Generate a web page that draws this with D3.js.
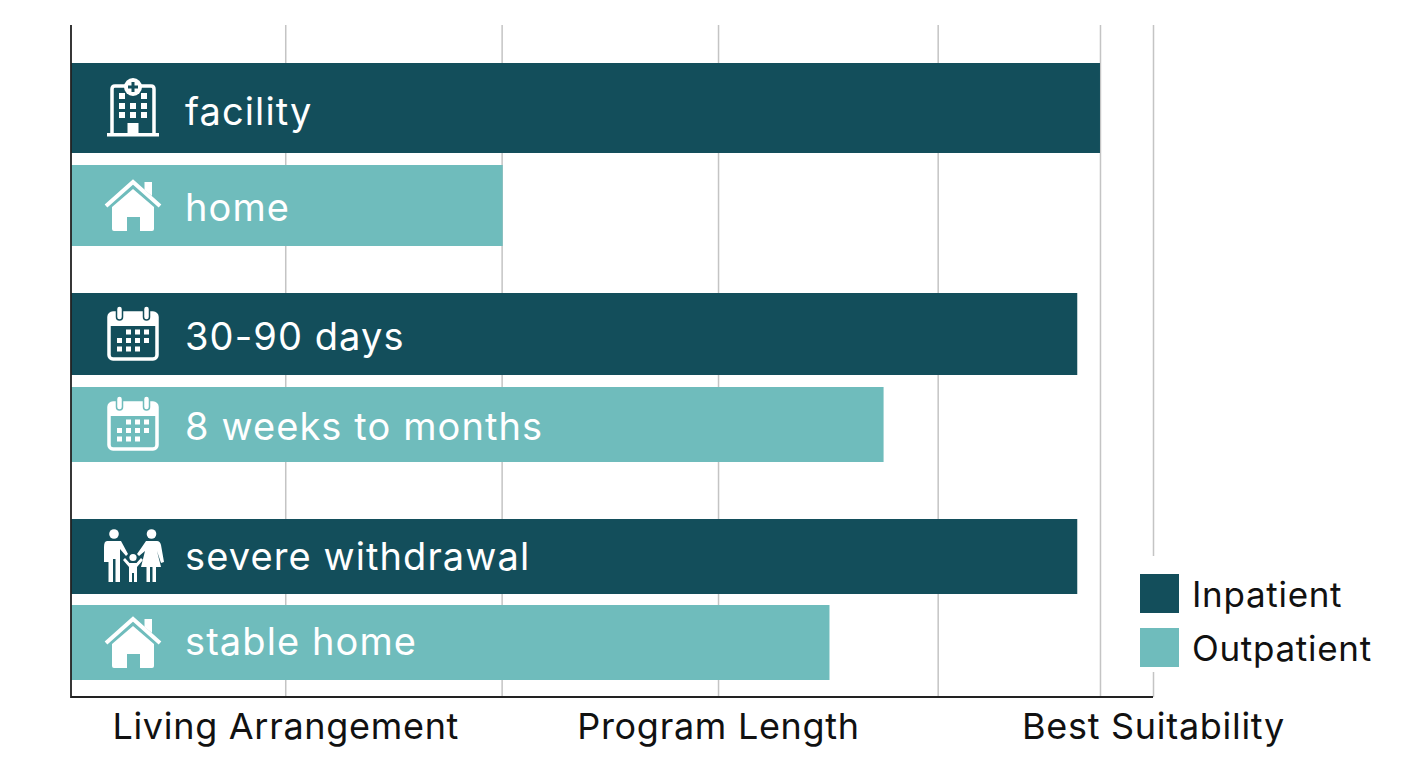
<!DOCTYPE html>
<html>
<head>
<meta charset="utf-8">
<script src="https://cdn.jsdelivr.net/npm/d3@7"></script>
<style>
body { margin: 0; background: #fff; }
text { font-family: Inter, "Open Sans", sans-serif; }
.bar-label { fill: #fff; font-size: 38px; letter-spacing: 1.1px; }
.axis-label, .legend-label { fill: #111; letter-spacing: 0.7px; }
.legend-label { font-size: 35px; }
</style>
</head>
<body>
<svg id="chart" width="1408" height="768"></svg>
<script>
// data
var rows = ["facility", "home", "30-90 days", "8 weeks to months", "severe withdrawal", "stable home"];
var groups = ["Inpatient", "Outpatient", "Inpatient", "Outpatient", "Inpatient", "Outpatient"];
var values = [95.1, 39.9, 93, 75.1, 93, 70.1];
var icons = ["hospital", "home", "calendar", "calendar", "family", "home"];
var gridTicks = [19.8, 39.8, 59.8, 80.1, 95.1, 100];
var labelTicks = [19.8, 59.8, 100];
var tickNames = ["Living Arrangement", "Program Length", "Best Suitability"];
var legendNames = ["Inpatient", "Outpatient"];

// layout
var plotLeft = 71, plotRight = 1153, plotTop = 25, plotBottom = 697;
var rowTops = [63, 165, 293, 387, 519, 605];
var rowHeights = [90, 81, 82, 75, 75, 75];
var baselines = [125, 221, 350, 440, 570, 655];
var iconCenters = [107, 206, 335, 425, 556, 643];

var svg = d3.select("#chart");
var x = d3.scaleLinear().domain([0, 100]).range([plotLeft, plotRight]);
var yTop = d3.scaleOrdinal().domain(rows).range(rowTops);
var yHeight = d3.scaleOrdinal().domain(rows).range(rowHeights);
var yBase = d3.scaleOrdinal().domain(rows).range(baselines);
var yIcon = d3.scaleOrdinal().domain(rows).range(iconCenters);
var color = d3.scaleOrdinal().domain(legendNames).range(["#134e5b", "#6fbcbc"]);

// gridlines
var grid = svg.append("g")
    .attr("transform", "translate(0," + plotBottom + ")")
    .call(d3.axisBottom(x).tickValues(gridTicks).tickSize(plotTop - plotBottom).tickFormat(""));
grid.select(".domain").remove();
grid.selectAll("line").attr("stroke", "#c4c4c4").attr("stroke-width", 1.5);

// bars
var table = rows.map(function(r, i){
    return {row: r, group: groups[i], value: values[i], icon: icons[i]};
});
svg.selectAll("rect.bar")
    .data(table).enter().append("rect")
    .attr("class", "bar")
    .attr("x", x(0))
    .attr("y", function(d){ return yTop(d.row) })
    .attr("width", function(d){ return x(d.value) - x(0) })
    .attr("height", function(d){ return yHeight(d.row) })
    .attr("fill", function(d){ return color(d.group) });

svg.selectAll("text.bar-label")
    .data(table).enter().append("text")
    .attr("class", "bar-label")
    .attr("x", 185)
    .attr("y", function(d){ return yBase(d.row) })
    .text(function(d){ return d.row });

// icons, drawn around their own center
function drawHospital(g, bg){
    g.append("path").attr("d", "M-21,27V-18Q-21,-21 -18,-21H18Q21,-21 21,-18V27")
        .attr("fill", "none").attr("stroke", "#fff").attr("stroke-width", 3.5);
    g.append("rect").attr("x", -26).attr("y", 26).attr("width", 52).attr("height", 3.5).attr("fill", "#fff");
    g.append("circle").attr("cy", -20).attr("r", 9).attr("fill", "#fff");
    g.append("path").attr("d", "M-5,-20H5M0,-25V-15").attr("stroke", bg).attr("stroke-width", 3);
    var cells = [[-11, -11], [11, -11], [-11, -1], [0, -1], [11, -1], [-11, 8], [0, 8], [11, 8]];
    g.selectAll("rect.win").data(cells).enter().append("rect")
        .attr("class", "win")
        .attr("x", function(d){ return d[0] - 3 })
        .attr("y", function(d){ return d[1] - 3 })
        .attr("width", 6).attr("height", 6).attr("fill", "#fff");
    g.append("rect").attr("x", -5.5).attr("y", 16).attr("width", 11).attr("height", 11).attr("fill", "#fff");
}

function drawHome(g, bg){
    g.append("path").attr("d", "M11.5,-24H19V-10L11.5,-16Z").attr("fill", "#fff");
    g.append("path").attr("d", "M-27,0L0,-24L27,0")
        .attr("fill", "none").attr("stroke", "#fff").attr("stroke-width", 4);
    g.append("path")
        .attr("d", "M0,-17L21,1V23Q21,25 19,25H7V11H-6V25H-19Q-21,25 -21,23V1Z")
        .attr("fill", "#fff");
}

function drawCalendar(g, bg){
    g.append("rect").attr("x", -24).attr("y", -22).attr("width", 48).attr("height", 46).attr("rx", 4)
        .attr("fill", "none").attr("stroke", "#fff").attr("stroke-width", 3.5);
    g.append("path").attr("d", "M-24,-18Q-24,-22 -20,-22H20Q24,-22 24,-18V-9H-24Z").attr("fill", "#fff");
    [-13.5, 13.5].forEach(function(cx){
        g.append("rect").attr("x", cx - 3).attr("y", -29).attr("width", 6).attr("height", 14).attr("rx", 3)
            .attr("fill", "#fff").attr("stroke", bg).attr("stroke-width", 1.5);
    });
    var cells = [[-4.5, -3], [4.5, -3], [13.5, -3], [-13.5, 5.5], [-4.5, 5.5], [4.5, 5.5], [13.5, 5.5],
        [-13.5, 14], [-4.5, 14], [4.5, 14]];
    g.selectAll("rect.dot").data(cells).enter().append("rect")
        .attr("class", "dot")
        .attr("x", function(d){ return d[0] - 2.5 })
        .attr("y", function(d){ return d[1] - 2.5 })
        .attr("width", 5).attr("height", 5).attr("fill", "#fff");
}

function drawFamily(g, bg){
    // father
    g.append("circle").attr("cx", -19).attr("cy", -22).attr("r", 4.8).attr("fill", "#fff");
    g.append("path").attr("d", "M-26,-15H-12L-5,-2L-7,0L-13,-7V26H-17.5V3H-20V26H-24.5V-7V6H-29V-9Q-29,-15 -26,-15Z").attr("fill", "#fff");
    // mother
    g.append("circle").attr("cx", 18.5).attr("cy", -22).attr("r", 4.8).attr("fill", "#fff");
    g.append("path").attr("d", "M13,-15H24Q27,-15 28,-11L31,6L28,7L24,-5L28,11H23V26H19.5V11H17V26H13.5V11H8L12,-5L6,0L4,-2Q9,-9 13,-15Z").attr("fill", "#fff");
    // child
    g.append("circle").attr("cy", 1.5).attr("r", 3.6).attr("fill", "#fff");
    g.append("path").attr("d", "M-3.5,7H3.5L8,2L10,4L4,11V26H1V17H-1V26H-4V11L-10,4L-8,2Z").attr("fill", "#fff");
}

var drawers = {hospital: drawHospital, home: drawHome, calendar: drawCalendar, family: drawFamily};
table.forEach(function(d){
    var g = svg.append("g").attr("transform", "translate(133," + yIcon(d.row) + ")");
    drawers[d.icon](g, color(d.group));
});

// axes
svg.append("path")
    .attr("d", "M" + plotLeft + "," + plotTop + "V" + plotBottom + "H" + plotRight)
    .attr("fill", "none").attr("stroke", "#222").attr("stroke-width", 1.8);

var labels = svg.append("g")
    .attr("transform", "translate(0," + plotBottom + ")")
    .call(d3.axisBottom(x).tickValues(labelTicks).tickSize(0).tickPadding(0)
        .tickFormat(function(d, i){ return tickNames[i] }));
labels.select(".domain").remove();
labels.selectAll("text").attr("class", "axis-label").attr("dy", 0).attr("y", 42)
    .style("font-family", "Inter").style("font-size", "36px");

// legend
var legendY = d3.scaleOrdinal().domain(legendNames).range([574, 628]);
svg.append("rect").attr("x", 1125).attr("y", 556).attr("width", 60).attr("height", 116).attr("fill", "#fff");
svg.selectAll("rect.swatch")
    .data(legendNames).enter().append("rect")
    .attr("class", "swatch")
    .attr("x", 1140)
    .attr("y", function(d){ return legendY(d) })
    .attr("width", 39).attr("height", 39)
    .attr("fill", function(d){ return color(d) });
svg.selectAll("text.legend-label")
    .data(legendNames).enter().append("text")
    .attr("class", "legend-label")
    .attr("x", 1192)
    .attr("y", function(d){ return legendY(d) + 33 })
    .text(function(d){ return d });
</script>
</body>
</html>
